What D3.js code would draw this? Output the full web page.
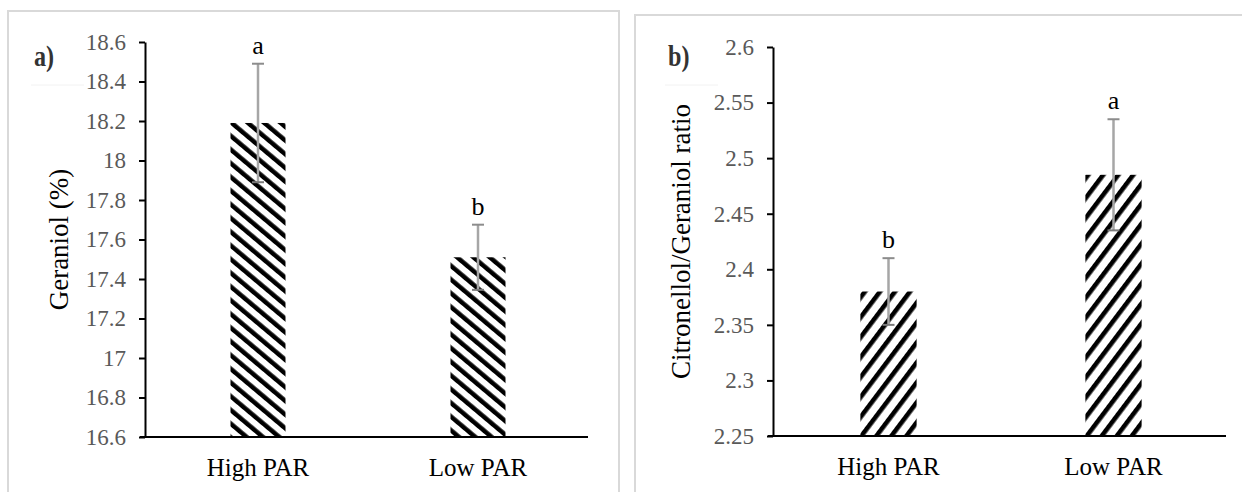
<!DOCTYPE html>
<html>
<head>
<meta charset="utf-8">
<script src="https://cdn.jsdelivr.net/npm/d3@7"></script>
<style>
  body { margin: 0; background: #fff; }
  svg { display: block; }
  svg text { font-family: "Liberation Serif", "Times New Roman", Times, serif !important; }
</style>
</head>
<body>
<svg width="1242" height="492"></svg>
<script>
// data
var categories = ["High PAR", "Low PAR"];

var geraniolMean = [18.19, 17.51];
var geraniolErr = [0.30, 0.165];
var geraniolLetters = ["a", "b"];
var geraniolTicks = [16.6, 16.8, 17, 17.2, 17.4, 17.6, 17.8, 18, 18.2, 18.4, 18.6];

var ratioMean = [2.38, 2.485];
var ratioErr = [0.03, 0.05];
var ratioLetters = ["b", "a"];
var ratioTicks = [2.25, 2.3, 2.35, 2.4, 2.45, 2.5, 2.55, 2.6];

var svg = d3.select("svg");
svg.append("rect").attr("width", 1242).attr("height", 492).attr("fill", "#fff");

var defs = svg.append("defs");

// hatch patterns (stripes rotated)
function hatch(id, period, thick, angle) {
	var p = defs.append("pattern")
		.attr("id", id)
		.attr("patternUnits", "userSpaceOnUse")
		.attr("width", period)
		.attr("height", 20)
		.attr("patternTransform", "rotate(" + angle + ")");
	p.append("rect").attr("width", period).attr("height", 20).attr("fill", "#fff");
	p.append("rect").attr("width", thick).attr("height", 20).attr("fill", "#000");
}
hatch("hatchA", 10.5, 4.5, -50);
hatch("hatchB", 12, 4.6, 37);

function drawPanel(o) {
	// frame of the panel
	svg.append("rect")
		.attr("x", o.frame[0]).attr("y", o.frame[1])
		.attr("width", o.frame[2]).attr("height", 600)
		.attr("fill", "none")
		.attr("stroke", "#d9d9d9")
		.attr("stroke-width", 2);

	var y = d3.scaleLinear().domain(o.domain).range([o.bottom, o.top]);
	var x = d3.scaleBand().domain(categories)
		.range([o.left + 3, o.right])
		.paddingInner(0.75).paddingOuter(0.375);

	var g = svg.append("g");

	// bars
	g.selectAll("rect.bar")
		.data(o.mean)
		.enter().append("rect")
			.attr("class", "bar")
			.attr("x", function(d, i) { return x(categories[i]); })
			.attr("y", function(d) { return y(d); })
			.attr("width", x.bandwidth())
			.attr("height", function(d) { return y(o.domain[0]) - y(d); })
			.attr("fill", "url(#" + o.pattern + ")");

	// error bars
	var eb = g.selectAll("g.err")
		.data(o.mean)
		.enter().append("g")
			.attr("class", "err")
			.attr("transform", function(d, i) {
				return "translate(" + (x(categories[i]) + x.bandwidth() / 2) + ",0)"; });
	eb.append("line")
		.attr("y1", function(d, i) { return y(d + o.err[i]); })
		.attr("y2", function(d, i) { return y(d - o.err[i]); })
		.attr("stroke", "#a6a6a6").attr("stroke-width", 2.5);
	eb.append("line")
		.attr("x1", -6).attr("x2", 6)
		.attr("y1", function(d, i) { return y(d + o.err[i]); })
		.attr("y2", function(d, i) { return y(d + o.err[i]); })
		.attr("stroke", "#8c8c8c").attr("stroke-width", 2);
	eb.append("line")
		.attr("x1", -6).attr("x2", 6)
		.attr("y1", function(d, i) { return y(d - o.err[i]); })
		.attr("y2", function(d, i) { return y(d - o.err[i]); })
		.attr("stroke", "#7a7a7a").attr("stroke-width", 2);

	// significance letters
	eb.append("text")
		.attr("y", function(d, i) { return y(d + o.err[i]) - 10; })
		.attr("text-anchor", "middle")
		.style("font-size", "26px")
		.attr("fill", "#000")
		.text(function(d, i) { return o.letters[i]; });

	// y axis
	var yAxis = g.append("g")
		.attr("transform", "translate(" + o.left + ",0)")
		.call(d3.axisLeft(y).tickValues(o.ticks).tickSize(6).tickSizeOuter(0)
			.tickPadding(13).tickFormat(function(d) { return String(d); }));
	yAxis.attr("font-family", null).attr("font-size", null);
	yAxis.select(".domain").attr("stroke", "#000").attr("stroke-width", 2);
	yAxis.selectAll(".tick line").attr("stroke", "#000").attr("stroke-width", 2);
	yAxis.selectAll(".tick text")
		.style("font-size", "23px")
		.attr("fill", "#595959");

	// x axis line
	g.append("line")
		.attr("x1", o.left - 5).attr("x2", o.right)
		.attr("y1", o.bottom).attr("y2", o.bottom)
		.attr("stroke", "#000").attr("stroke-width", 2);

	var xAxis = g.append("g")
		.attr("transform", "translate(0," + o.bottom + ")")
		.call(d3.axisBottom(x).tickSize(0).tickPadding(21));
	xAxis.attr("font-family", null).attr("font-size", null);
	xAxis.select(".domain").remove();
	xAxis.selectAll(".tick text")
		.style("font-size", "25px")
		.attr("fill", "#000");

	// axis title
	g.append("text")
		.attr("transform", "translate(" + o.titleX + "," + ((o.top + o.bottom) / 2) + ") rotate(-90)")
		.attr("text-anchor", "middle")
		.style("font-size", "27px")
		.attr("fill", "#000")
		.text(o.title);

	// panel letter
	g.append("line")
		.attr("x1", o.tag[0] - 3).attr("x2", o.tag[0] + 50)
		.attr("y1", o.tag[1] + 19).attr("y2", o.tag[1] + 19)
		.attr("stroke", "#f2f2f2").attr("stroke-width", 1);
	g.append("text")
		.attr("transform", "translate(" + o.tag[0] + "," + o.tag[1] + ") scale(1.05,1.3)")
		.style("font-size", "23px")
		.style("font-weight", "bold")
		.attr("fill", "#333")
		.text(o.label);
}

drawPanel({
	frame: [8, 11, 611],
	left: 145, right: 588, top: 42, bottom: 437,
	domain: [16.6, 18.6],
	ticks: geraniolTicks,
	mean: geraniolMean, err: geraniolErr, letters: geraniolLetters,
	pattern: "hatchA",
	title: "Geraniol (%)", titleX: 68,
	label: "a)", tag: [34, 66]
});

drawPanel({
	frame: [635, 15, 620],
	left: 773, right: 1226, top: 47, bottom: 436,
	domain: [2.25, 2.6],
	ticks: ratioTicks,
	mean: ratioMean, err: ratioErr, letters: ratioLetters,
	pattern: "hatchB",
	title: "Citronellol/Geraniol ratio", titleX: 690,
	label: "b)", tag: [668, 66]
});
</script>
</body>
</html>
